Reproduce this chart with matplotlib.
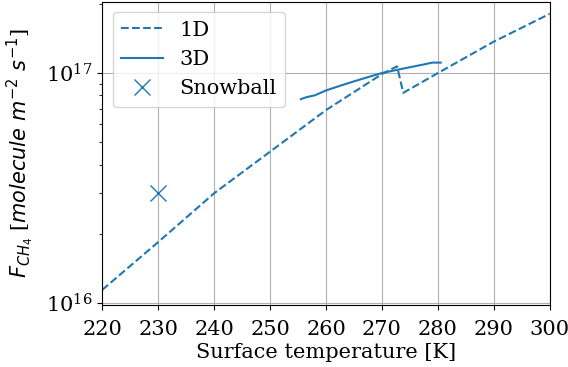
import matplotlib
matplotlib.use("Agg")
import matplotlib.pyplot as plt

plt.rcParams['font.family'] = 'serif'
plt.rcParams['font.size'] = 15

# 1D model
t_1d = [220, 230, 240, 250, 260, 270, 272.7, 273.8, 280, 290, 300]
f_1d = [1.14e16, 1.84e16, 3.0e16, 4.55e16, 6.9e16, 0.99e17, 1.07e17, 8.2e16, 1.0e17, 1.37e17, 1.81e17]

# 3D model
t_3d = [255.5, 256.5, 258, 260, 262.5, 265, 267.5, 270, 272.5, 275, 277.5, 279, 280.5]
f_3d = [7.7e16, 7.85e16, 8.0e16, 8.4e16, 8.8e16, 9.2e16, 9.6e16, 1.0e17, 1.03e17, 1.06e17, 1.09e17, 1.11e17, 1.11e17]

# snowball state
t_snow = [230]
f_snow = [3.0e16]

fig = plt.figure(figsize=(5.68, 3.67), dpi=100)
ax = fig.add_axes([0.18, 0.169, 0.788, 0.826])

ax.plot(t_1d, f_1d, '--', color='C0', label='1D')
ax.plot(t_3d, f_3d, '-', color='C0', label='3D')
ax.plot(t_snow, f_snow, 'x', color='C0', markersize=11, linestyle='none', label='Snowball')

ax.set_yscale('log')
ax.set_xlim(220, 300)
ax.set_xticks(range(220, 301, 10))
ax.set_ylim(0.98e16, 2.04e17)
ax.tick_params(axis='x', pad=7)
ax.grid(True, which='major')
ax.set_xlabel('Surface temperature [K]', labelpad=3)
ax.set_ylabel(r'$F_{CH_4}$ [$molecule\ m^{-2}\ s^{-1}$]', labelpad=7)
ax.legend(loc='upper left')

fig.savefig('out.png', dpi=100)
